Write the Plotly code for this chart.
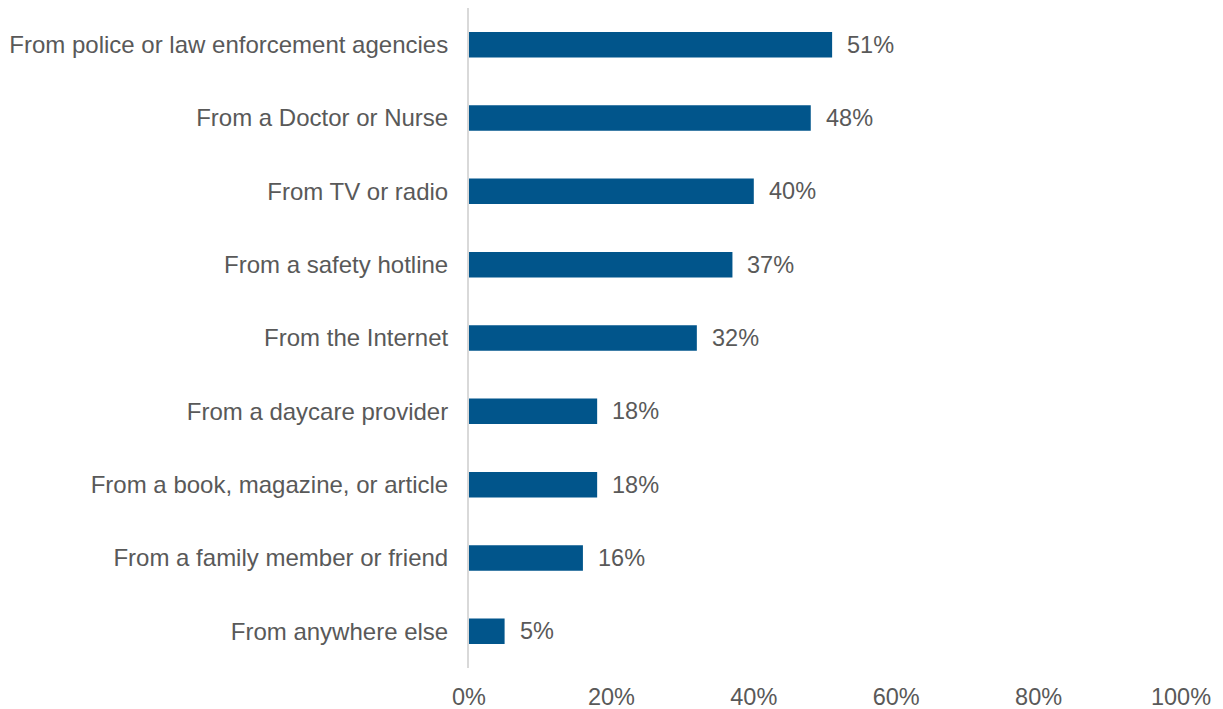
import plotly.graph_objects as go

sources = [
    "From police or law enforcement agencies",
    "From a Doctor or Nurse",
    "From TV or radio",
    "From a safety hotline",
    "From the Internet",
    "From a daycare provider",
    "From a book, magazine, or article",
    "From a family member or friend",
    "From anywhere else",
]
shares = [51, 48, 40, 37, 32, 18, 18, 16, 5]
tick_vals = [0, 20, 40, 60, 80, 100]
tick_text = ["0%", "20%", "40%", "60%", "80%", "100%"]

BAR = "#01558B"
TXT = "#595959"
FONT = "Liberation Sans, Arial, sans-serif"

fig = go.Figure(
    go.Bar(
        x=shares,
        y=sources,
        orientation="h",
        marker=dict(color=BAR, line=dict(width=0)),
        hoverinfo="skip",
    )
)

for s, v in zip(sources, shares):
    fig.add_annotation(
        x=v, y=s, text=f"{v}%", showarrow=False,
        xanchor="left", xshift=13,
        font=dict(family=FONT, size=23.5, color=TXT),
    )

fig.update_layout(
    width=1223, height=709,
    margin=dict(l=469, r=42, t=8, b=41, autoexpand=False),
    paper_bgcolor="white", plot_bgcolor="white",
    bargap=0.652,
    showlegend=False,
    font=dict(family=FONT, size=23.5, color=TXT),
)
fig.update_xaxes(
    range=[0, 100], tickvals=tick_vals, ticktext=tick_text,
    showgrid=False, zeroline=False, showline=False, automargin=False,
    ticks="outside", ticklen=8, tickcolor="rgba(0,0,0,0)",
    tickfont=dict(family=FONT, size=23.5, color=TXT),
)
fig.update_yaxes(
    autorange="reversed", automargin=False,
    showgrid=False, zeroline=False,
    showline=True, linecolor="#D9D9D9", linewidth=2,
    ticks="outside", ticklen=14, tickcolor="rgba(0,0,0,0)",
    tickfont=dict(family=FONT, size=24, color=TXT),
)

fig.write_html("out.html")
